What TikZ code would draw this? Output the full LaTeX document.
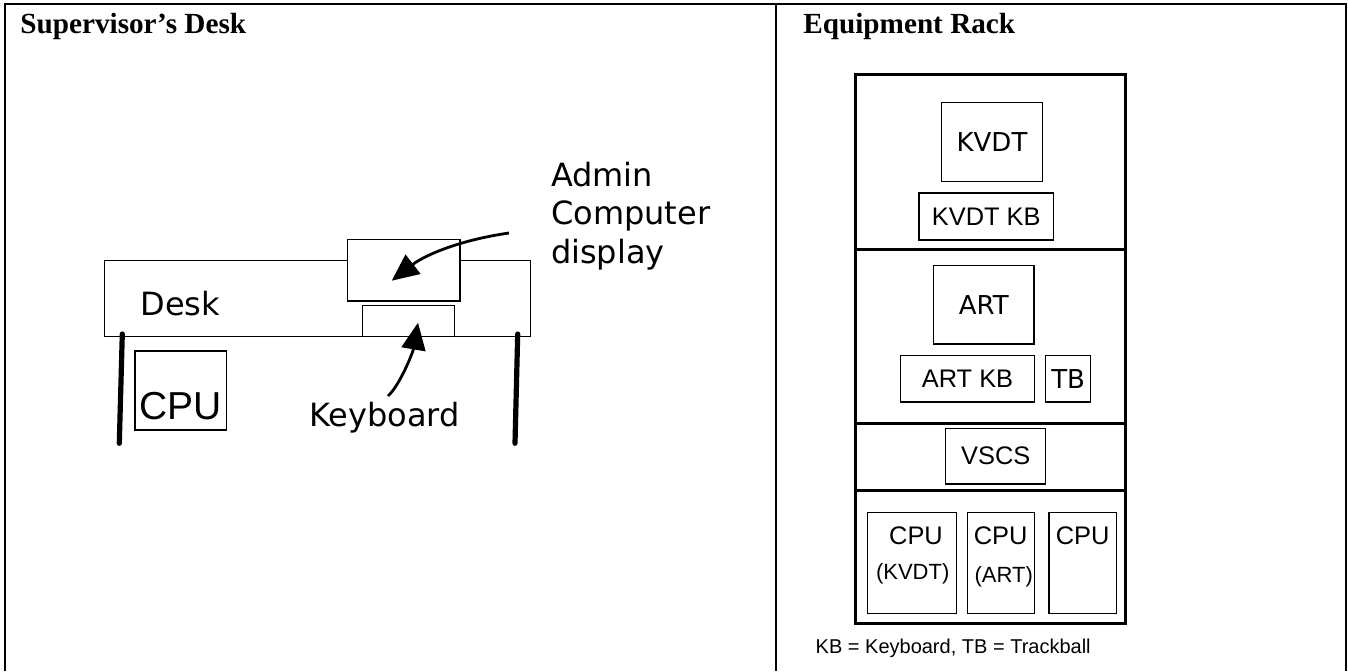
\documentclass[tikz,border=0pt]{standalone}
\usepackage{fontspec}
\setmainfont{Liberation Serif}
\newfontfamily\rackfont{Liberation Sans}
\newfontfamily\sketchfont{DejaVu Sans}
\usetikzlibrary{arrows.meta}
\tikzset{
  frame line/.style={line width=1pt},
  box/.style={draw, line width=0.75pt, fill=white, inner sep=0pt},
  rack wall/.style={line width=1.5pt},
  leg/.style={line width=2.6pt, line cap=round},
  pointer/.style={line width=1.4pt, -{Triangle[length=13.5pt,width=12pt]}},
  heading/.style={inner sep=0pt, anchor=base west, font=\fontsize{14.6}{17}\selectfont\bfseries},
  sketch/.style={inner sep=0pt, font=\sketchfont\fontsize{16}{19}\selectfont},
  rack sketch/.style={font=\sketchfont\fontsize{13}{15}\selectfont},
  rack text/.style={font=\rackfont\fontsize{12.7}{15}\selectfont},
  small text/.style={inner sep=0pt, anchor=base, font=\rackfont\fontsize{11}{13}\selectfont},
}
\begin{document}
\begin{tikzpicture}[x=0.5pt, y=-0.5pt]
\useasboundingbox (0,0) rectangle (1348,671);
% table frame
\draw[frame line] (4.5,671) -- (4.5,4.3) -- (1345.5,4.3) -- (1345.5,671);
\draw[frame line] (776,4.3) -- (776,671);
\node[heading] (desk-head) at (20,33) {Supervisor’s Desk};
\node[heading] (rack-head) at (803,33) {Equipment Rack};

% supervisor's desk
\node[box, minimum width=213.2pt, minimum height=38pt] (desk) at (317.5,298.7) {};
\node[box, minimum width=56.15pt, minimum height=30.85pt] (monitor) at (403.85,270.15) {};
\node[box, minimum width=45.8pt, minimum height=15.5pt] (keyboard) at (408.5,321.2) {};
\draw[leg] (122.3,334) -- (119.3,443.3);
\draw[leg] (517.7,334) -- (515,443.3);
\node[box, minimum width=45.85pt, minimum height=39.5pt] (pc) at (180.85,390.5) {};
\node[inner sep=0pt, font=\rackfont\fontsize{19.5}{22}\selectfont] (pc-text) at (180.4,406) {CPU};
\node[sketch, anchor=base west] (desk-text) at (140,315) {Desk};
\node[sketch, anchor=base west] (keyboard-text) at (309,426) {Keyboard};
\node[sketch, anchor=base west, align=left, font=\sketchfont\fontsize{16}{19.1}\selectfont] (admin-text) at (550.7,263.1) {Admin\\Computer\\display};
\coordinate (admin-tail) at (509,233);
\coordinate (admin-tip) at (391.7,280.7);
\coordinate (keyboard-tail) at (388,396);
\coordinate (keyboard-tip) at (418,322.7);
\draw[pointer] (admin-tail) .. controls (460,240) and (425,255) .. (admin-tip);
\draw[pointer] (keyboard-tail) .. controls (400,385) and (413,352) .. (keyboard-tip);

% equipment rack
\coordinate (rack-nw) at (855,74.3);
\coordinate (rack-se) at (1125,623.3);
\draw[rack wall] (rack-nw) rectangle (rack-se);
\foreach \y in {249,423.3,490.7}
  \draw[rack wall] (855,\y) -- (1125,\y);
\node[box, rack sketch, minimum width=50.3pt, minimum height=39.5pt] (kvdt) at (992,142.2) {KVDT};
\node[box, rack text, minimum width=67.15pt, minimum height=23.65pt] (kvdt-kb) at (986.2,216.4) {KVDT KB};
\node[box, rack sketch, minimum width=50.35pt, minimum height=39.35pt] (art) at (983.7,304.7) {ART};
\node[box, rack text, minimum width=66.8pt, minimum height=23.35pt] (art-kb) at (967.5,378.7) {ART KB};
\node[box, rack sketch, minimum width=22.5pt, minimum height=23.35pt] (tb) at (1068.2,378.7) {TB};
\node[box, rack text, minimum width=50pt, minimum height=27.85pt] (vscs) at (995.7,456.2) {VSCS};
\node[box, minimum width=44.7pt, minimum height=50.5pt] (cpu-kvdt) at (912,562.8) {};
\node[box, minimum width=33.5pt, minimum height=50.5pt] (cpu-art) at (1000.8,562.8) {};
\node[box, minimum width=33.85pt, minimum height=50.5pt] (cpu-spare) at (1082.8,562.8) {};
\node[rack text, inner sep=0pt, anchor=base] (cpu-kvdt-a) at (916,544.3) {CPU};
\node[small text] (cpu-kvdt-b) at (912.7,579.3) {(KVDT)};
\node[rack text, inner sep=0pt, anchor=base] (cpu-art-a) at (1000.7,544.3) {CPU};
\node[small text] (cpu-art-b) at (1003.7,582.7) {(ART)};
\node[rack text, inner sep=0pt, anchor=base] (cpu-spare-a) at (1082.7,544.3) {CPU};
\node[inner sep=0pt, anchor=base west, font=\rackfont\fontsize{10}{12}\selectfont] (legend) at (815.3,653.3) {KB = Keyboard, TB = Trackball};
\end{tikzpicture}
\end{document}
